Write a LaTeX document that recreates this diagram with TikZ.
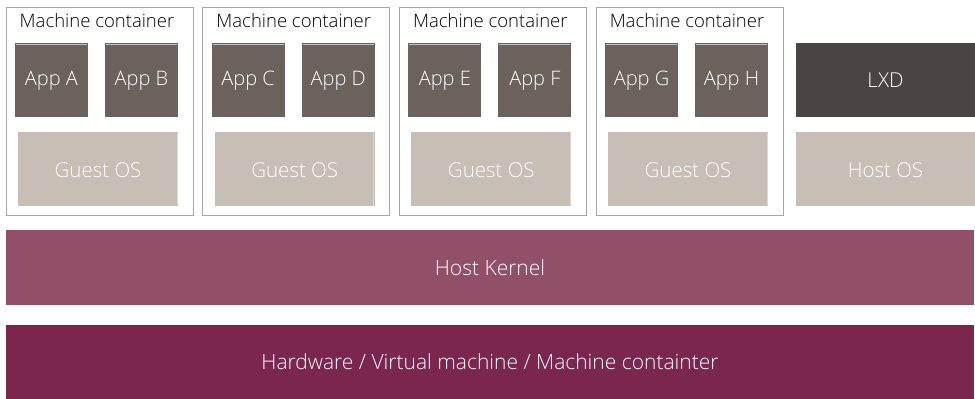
\documentclass[tikz,border=0pt]{standalone}
\usepackage{fontspec}
\setmainfont{Open Sans Light}[BoldFont=Open Sans]
\begin{document}
\begin{tikzpicture}[x=1pt,y=-1pt,
  container/.style={draw=black!35,line width=0.8pt,fill=white},
  app/.style={fill=appgray,text=white,font=\fontsize{20}{24}\selectfont},
  guest/.style={fill=guestbeige,text=white,font=\fontsize{20.5}{24}\selectfont},
  lxd/.style={fill=lxdgray,text=white,font=\fontsize{20.5}{24}\selectfont},
  bar/.style={text=white,font=\fontsize{21}{25}\selectfont},
  title/.style={text=black,font=\fontsize{18.5}{22}\selectfont}]
\definecolor{appgray}{HTML}{6B625E}
\definecolor{guestbeige}{HTML}{C7BFB6}
\definecolor{lxdgray}{HTML}{4A4542}
\definecolor{kernel}{HTML}{924F69}
\definecolor{hw}{HTML}{7A264D}
\useasboundingbox (0,0) rectangle (975,399);
\foreach \i/\x/\a/\b in {1/6/A/B,2/202.7/C/D,3/399.3/E/F,4/596/G/H}{
  \draw[container] (\x,7) rectangle ++(187,208);
  \node[title] (t\i) at (\x+91,21) {Machine container};
  \fill[appgray] (\x+9,43) rectangle ++(73,74);
  \draw[white!60!appgray,line width=0.6pt] (\x+10,44.5) -- (\x+81,44.5);
  \node[app] (a\i) at (\x+45.5,80.5) {App \a};
  \fill[appgray] (\x+99,43) rectangle ++(73,74);
  \draw[white!60!appgray,line width=0.6pt] (\x+100,44.5) -- (\x+171,44.5);
  \node[app] (b\i) at (\x+135.5,80.5) {App \b};
  \fill[guestbeige] (\x+12,132) rectangle ++(160,74);
  \draw[white!40!guestbeige,line width=0.6pt] (\x+171,133) -- (\x+171,205);
  \node[guest] (g\i) at (\x+92,170) {Guest OS};
}
\fill[lxdgray] (796,43) rectangle (975,117);
\node[lxd] (lxd) at (885.5,80) {LXD};
\fill[guestbeige] (796,132) rectangle (975,206);
\node[guest] (host) at (885.5,170) {Host OS};
\fill[kernel] (6,230) rectangle (974,305);
\node[bar] (kern) at (490,268) {Host Kernel};
\fill[hw] (6,325) rectangle (974,399);
\node[bar] (hwn) at (490,362) {Hardware / Virtual machine / Machine containter};
\end{tikzpicture}
\end{document}
